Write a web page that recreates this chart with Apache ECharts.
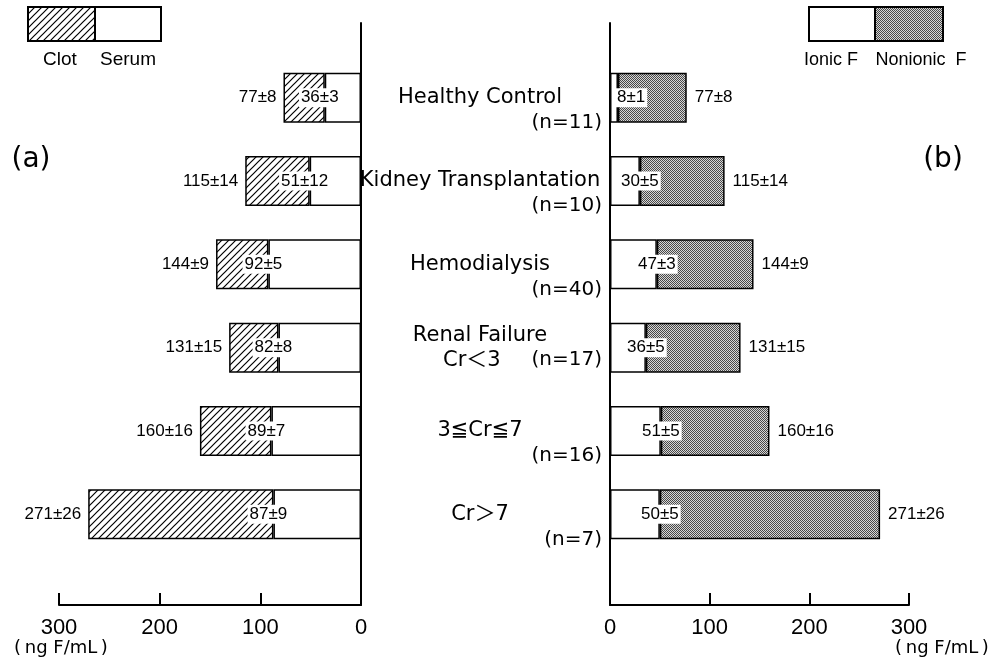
<!DOCTYPE html>
<html lang="en">
<head>
<meta charset="UTF-8">
<title>Serum fluoride in renal disease</title>
<script src="https://cdn.jsdelivr.net/npm/echarts@6.0.0/dist/echarts.min.js"></script>
<style>html, body { margin: 0; background: #fff; }</style>
</head>
<body>
<div id="main" style="width: 997px; height: 669px;"></div>
<script>
// groups, top to bottom
var groups = ['Healthy Control', 'Kidney Transplantation', 'Hemodialysis', 'Renal Failure', '3≦Cr≦7', 'Cr＞7'];
var subLabels = ['', '', '', 'Cr＜3', '', ''];
var nCounts = [11, 10, 40, 17, 16, 7];

// total F (ng F/mL): mean, SD
var totalMean = [77, 115, 144, 131, 160, 271];
var totalSD = [8, 14, 9, 15, 16, 26];
// (a) serum part
var serumMean = [36, 51, 92, 82, 89, 87];
var serumSD = [3, 12, 5, 8, 7, 9];
// (b) ionic F part
var ionicMean = [8, 30, 47, 36, 51, 50];
var ionicSD = [1, 5, 3, 5, 5, 5];

var axisMax = 300, axisStep = 100;

// rest of the bar = total minus inner part
var clot = totalMean.map(function (t, i) { return t - serumMean[i]; });
var nonionic = totalMean.map(function (t, i) { return t - ionicMean[i]; });

var NUM_FONT = '"Liberation Sans Narrow", "Liberation Sans", sans-serif';
var TXT_FONT = '"DejaVu Sans", "Noto Sans CJK JP", sans-serif';

// fill patterns
function hatchCanvas() {
    var c = document.createElement('canvas');
    c.width = 7; c.height = 7;
    var g = c.getContext('2d');
    g.fillStyle = '#fff'; g.fillRect(0, 0, 7, 7);
    g.strokeStyle = '#000'; g.lineWidth = 1.2;
    g.beginPath();
    g.moveTo(-1, 8); g.lineTo(8, -1);
    g.moveTo(-1, 1); g.lineTo(1, -1);
    g.moveTo(6, 8); g.lineTo(8, 6);
    g.stroke();
    return c;
}
function dotCanvas() {
    var c = document.createElement('canvas');
    c.width = 2; c.height = 2;
    var g = c.getContext('2d');
    g.fillStyle = '#d6d6d6'; g.fillRect(0, 0, 2, 2);
    g.fillStyle = '#484848'; g.fillRect(0, 0, 1, 1); g.fillRect(1, 1, 1, 1);
    return c;
}
var hatch = { image: hatchCanvas(), repeat: 'repeat' };
var dots = { image: dotCanvas(), repeat: 'repeat' };

var chart = echarts.init(document.getElementById('main'), null, { renderer: 'canvas' });

var barStyle = function (fill) {
    return { color: fill, borderColor: '#000', borderWidth: 1.5 };
};
var numLabel = {
    show: true, color: '#000', fontSize: 17, fontFamily: NUM_FONT
};
function pm(m, s) { return m + '±' + s; }

var ionicData = ionicMean.map(function (v) {
    // very short bars: put the label just inside the axis
    if (v < 20) return { value: v, label: { position: [5, '50%'], align: 'left' } };
    return v;
});

var bandGrid = { top: 56, height: 500 };
var frameGrid = { top: 23, height: 582 };

function frameX(idx, inverse) {
    return {
        gridIndex: idx, type: 'value', min: 0, max: axisMax, interval: axisStep, inverse: inverse,
        axisLine: { show: true, lineStyle: { color: '#000', width: 2 } },
        axisTick: { show: true, inside: true, length: 12, lineStyle: { color: '#000', width: 2 } },
        axisLabel: { color: '#000', fontSize: 22, fontFamily: NUM_FONT, margin: 12 },
        splitLine: { show: false }
    };
}
function frameY(idx, pos) {
    return {
        gridIndex: idx, type: 'value', min: 0, max: 1, position: pos,
        axisLine: { show: true, lineStyle: { color: '#000', width: 2 } },
        axisTick: { show: false }, axisLabel: { show: false }, splitLine: { show: false }
    };
}

var option = {
    backgroundColor: '#fff',
    animation: false,
    grid: [
        { left: 59, width: 302, top: bandGrid.top, height: bandGrid.height, containLabel: false, outerBoundsMode: 'none' },
        { left: 610, width: 299, top: bandGrid.top, height: bandGrid.height, containLabel: false, outerBoundsMode: 'none' },
        { left: 59, width: 302, top: frameGrid.top, height: frameGrid.height, containLabel: false, outerBoundsMode: 'none' },
        { left: 610, width: 299, top: frameGrid.top, height: frameGrid.height, containLabel: false, outerBoundsMode: 'none' }
    ],
    xAxis: [
        { gridIndex: 0, type: 'value', min: 0, max: axisMax, inverse: true, show: false },
        { gridIndex: 1, type: 'value', min: 0, max: axisMax, show: false },
        frameX(2, true),
        frameX(3, false)
    ],
    yAxis: [
        { gridIndex: 0, type: 'category', data: groups, inverse: true, show: false },
        {
            gridIndex: 1, type: 'category', data: groups, inverse: true,
            axisLine: { show: false }, axisTick: { show: false }, splitLine: { show: false },
            axisLabel: {
                show: true, interval: 0, hideOverlap: false, margin: 8, width: 244, align: 'right',
                formatter: function (v, i) {
                    if (subLabels[i]) {
                        return '{g|' + v + '}\n{c|' + subLabels[i] + '}{n|(n=' + nCounts[i] + ')}';
                    }
                    return '{e| }\n{g|' + v + '}\n{n|(n=' + nCounts[i] + ')}';
                },
                rich: {
                    e: { fontSize: 21, lineHeight: 25, fontFamily: TXT_FONT },
                    g: { fontSize: 21, lineHeight: 25, fontFamily: TXT_FONT, color: '#000', align: 'center' },
                    c: { fontSize: 21, lineHeight: 25, fontFamily: TXT_FONT, color: '#000', align: 'left', padding: [0, 0, 0, 85] },
                    n: { fontSize: 20, lineHeight: 25, fontFamily: TXT_FONT, color: '#000', align: 'right' }
                }
            }
        },
        frameY(2, 'right'),
        frameY(3, 'left')
    ],
    series: [
        {
            name: 'Serum', type: 'bar', xAxisIndex: 0, yAxisIndex: 0, stack: 'a', barWidth: 50,
            data: serumMean, itemStyle: barStyle('#fff'), z: 2,
            label: Object.assign({}, numLabel, {
                position: [-5, '50%'], align: 'center', verticalAlign: 'middle',
                backgroundColor: '#fff', padding: [1, 2],
                formatter: function (p) { return pm(serumMean[p.dataIndex], serumSD[p.dataIndex]); }
            })
        },
        {
            name: 'Clot', type: 'bar', xAxisIndex: 0, yAxisIndex: 0, stack: 'a', barWidth: 50,
            data: clot, itemStyle: barStyle(hatch), z: 2,
            label: Object.assign({}, numLabel, {
                position: 'left', distance: 7,
                formatter: function (p) { return pm(totalMean[p.dataIndex], totalSD[p.dataIndex]); }
            })
        },
        {
            name: 'Ionic F', type: 'bar', xAxisIndex: 1, yAxisIndex: 1, stack: 'b', barWidth: 50,
            data: ionicData, itemStyle: barStyle('#fff'), z: 2,
            label: Object.assign({}, numLabel, {
                position: ['100%', '50%'], align: 'center', verticalAlign: 'middle',
                backgroundColor: '#fff', padding: [1, 2],
                formatter: function (p) { return pm(ionicMean[p.dataIndex], ionicSD[p.dataIndex]); }
            })
        },
        {
            name: 'Nonionic F', type: 'bar', xAxisIndex: 1, yAxisIndex: 1, stack: 'b', barWidth: 50,
            data: nonionic, itemStyle: barStyle(dots), z: 2,
            label: Object.assign({}, numLabel, {
                position: 'right', distance: 8,
                formatter: function (p) { return pm(totalMean[p.dataIndex], totalSD[p.dataIndex]); }
            })
        }
    ],
    graphic: [
        // legend (a)
        { type: 'rect', shape: { x: 28, y: 7, width: 67, height: 34 }, style: { fill: hatch, stroke: '#000', lineWidth: 2 } },
        { type: 'rect', shape: { x: 95, y: 7, width: 66, height: 34 }, style: { fill: '#fff', stroke: '#000', lineWidth: 2 } },
        { type: 'text', x: 60, y: 60, style: { text: 'Clot', font: '19px "Liberation Sans"', fill: '#000', align: 'center', verticalAlign: 'middle' } },
        { type: 'text', x: 128, y: 60, style: { text: 'Serum', font: '19px "Liberation Sans"', fill: '#000', align: 'center', verticalAlign: 'middle' } },
        // legend (b)
        { type: 'rect', shape: { x: 809, y: 7, width: 66, height: 34 }, style: { fill: '#fff', stroke: '#000', lineWidth: 2 } },
        { type: 'rect', shape: { x: 875, y: 7, width: 68, height: 34 }, style: { fill: dots, stroke: '#000', lineWidth: 2 } },
        { type: 'text', x: 831, y: 60, style: { text: 'Ionic F', font: '18px "Liberation Sans"', fill: '#000', align: 'center', verticalAlign: 'middle' } },
        { type: 'text', x: 921, y: 60, style: { text: 'Nonionic  F', font: '18px "Liberation Sans"', fill: '#000', align: 'center', verticalAlign: 'middle' } },
        // panel tags
        { type: 'text', x: 31, y: 160, style: { text: '(a)', font: '28px "DejaVu Sans"', fill: '#000', align: 'center', verticalAlign: 'middle' } },
        { type: 'text', x: 943, y: 160, style: { text: '(b)', font: '28px "DejaVu Sans"', fill: '#000', align: 'center', verticalAlign: 'middle' } },
        // units
        { type: 'text', x: 61, y: 648, style: { text: '(\u2009ng F/mL\u2009)', font: '18px "DejaVu Sans"', fill: '#000', align: 'center', verticalAlign: 'middle' } },
        { type: 'text', x: 942, y: 648, style: { text: '(\u2009ng F/mL\u2009)', font: '18px "DejaVu Sans"', fill: '#000', align: 'center', verticalAlign: 'middle' } }
    ]
};

chart.setOption(option);
</script>
</body>
</html>
